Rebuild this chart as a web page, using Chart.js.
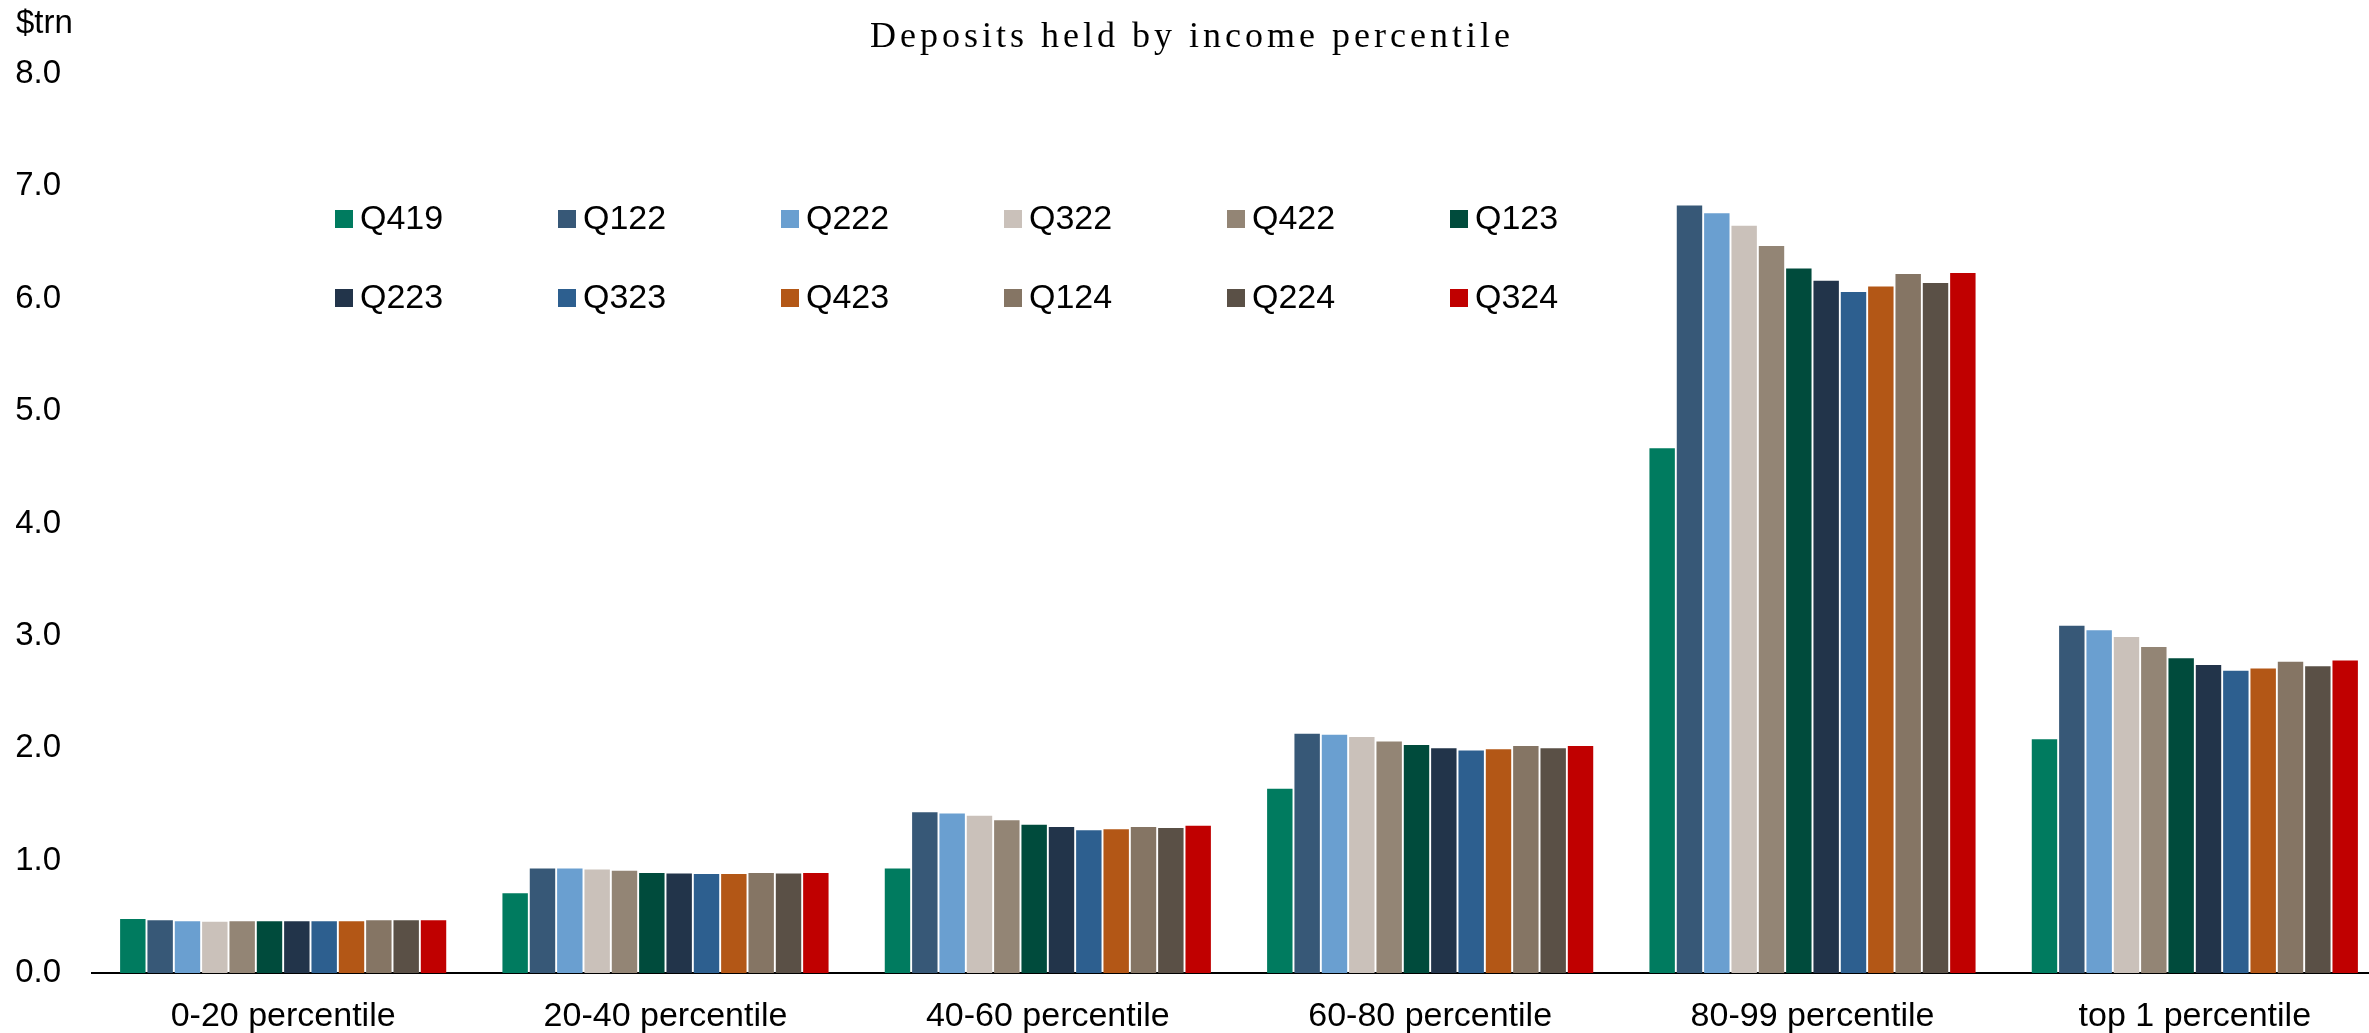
<!DOCTYPE html>
<html>
<head>
<meta charset="utf-8">
<title>Deposits held by income percentile</title>
<script src="https://cdn.jsdelivr.net/npm/chart.js@4.4.1/dist/chart.umd.min.js"></script>
<style>
  html, body { margin: 0; padding: 0; background: #fff; overflow: hidden; }
  /* de grafiek loopt rechts iets door buiten beeld, net als in het origineel */
  #wrap { width: 2369px; height: 1033px; overflow: hidden; }
</style>
</head>
<body>
<div id="wrap"><canvas id="deposits" width="2386" height="1033"></canvas></div>
<script>
// categorieen en waarden ($trn)
const percentiles = ['0-20 percentile', '20-40 percentile', '40-60 percentile', '60-80 percentile', '80-99 percentile', 'top 1 percentile'];

const q419 = [0.48, 0.71, 0.93, 1.64, 4.67, 2.08];
const q122 = [0.47, 0.93, 1.43, 2.13, 6.83, 3.09];
const q222 = [0.46, 0.93, 1.42, 2.12, 6.76, 3.05];
const q322 = [0.455, 0.92, 1.40, 2.10, 6.65, 2.99];
const q422 = [0.46, 0.91, 1.36, 2.06, 6.47, 2.90];
const q123 = [0.46, 0.89, 1.32, 2.03, 6.27, 2.80];
const q223 = [0.46, 0.886, 1.30, 2.00, 6.16, 2.74];
const q323 = [0.46, 0.88, 1.27, 1.98, 6.06, 2.69];
const q423 = [0.46, 0.88, 1.28, 1.99, 6.11, 2.71];
const q124 = [0.47, 0.89, 1.30, 2.02, 6.22, 2.77];
const q224 = [0.47, 0.885, 1.29, 2.00, 6.14, 2.73];
const q324 = [0.47, 0.89, 1.31, 2.02, 6.23, 2.78];

const quarterLabels = ['Q419', 'Q122', 'Q222', 'Q322', 'Q422', 'Q123', 'Q223', 'Q323', 'Q423', 'Q124', 'Q224', 'Q324'];
const quarterValues = [q419, q122, q222, q322, q422, q123, q223, q323, q423, q124, q224, q324];
const quarterColors = ['#007b5f', '#375877', '#6a9fd0', '#cac1ba', '#938575', '#004b3c',
                       '#22344a', '#2d5f8f', '#b35716', '#857564', '#5a5046', '#c00000'];

const sansFont = "'Liberation Sans', Arial, sans-serif";

// titel, eenheid en legenda in twee rijen van zes
const overlayPlugin = {
  id: 'overlay',
  afterDraw(chart) {
    const ctx = chart.ctx;
    ctx.save();
    ctx.fillStyle = '#000';

    ctx.font = "36px 'Liberation Serif', 'Times New Roman', serif";
    ctx.textAlign = 'center';
    ctx.textBaseline = 'middle';
    ctx.letterSpacing = '4px';
    ctx.fillText('Deposits held by income percentile', 1192, 38);
    ctx.letterSpacing = '0px';

    ctx.font = '33px ' + sansFont;
    ctx.textAlign = 'left';
    ctx.fillText('$trn', 16, 24);

    ctx.font = '34px ' + sansFont;
    chart.data.datasets.forEach((ds, i) => {
      const col = i % 6;
      const row = Math.floor(i / 6);
      const x = 335 + col * 223;
      const y = 219 + row * 79;
      ctx.fillStyle = ds.backgroundColor;
      ctx.fillRect(x, y - 9, 18, 18);
      ctx.fillStyle = '#000';
      ctx.fillText(ds.label, x + 25, y + 1);
    });
    ctx.restore();
  }
};

const ctx = document.getElementById('deposits').getContext('2d');

new Chart(ctx, {
  type: 'bar',
  data: {
    labels: percentiles,
    datasets: quarterLabels.map((label, i) => ({
      label: label,
      data: quarterValues[i],
      backgroundColor: quarterColors[i],
      borderWidth: 0,
      categoryPercentage: 0.858,
      barPercentage: 0.93
    }))
  },
  options: {
    responsive: false,
    animation: false,
    layout: { padding: { top: 74, left: 15, right: 0, bottom: 0 } },
    plugins: {
      legend: { display: false },
      title: { display: false },
      tooltip: { enabled: false }
    },
    scales: {
      x: {
        grid: { display: false, drawTicks: false },
        border: { display: true, color: '#000', width: 2 },
        ticks: {
          color: '#000',
          padding: 23,
          maxRotation: 0,
          font: { family: sansFont, size: 34 }
        },
        afterFit: (scale) => {
          scale.paddingLeft = 0;
          scale.paddingRight = 0;
          scale.height = 60;
        }
      },
      y: {
        min: 0,
        max: 8,
        grid: { display: false, drawTicks: false },
        border: { display: false },
        ticks: {
          stepSize: 1,
          color: '#000',
          padding: 31,
          font: { family: sansFont, size: 33 },
          callback: (v) => Number(v).toFixed(1)
        },
        afterFit: (scale) => {
          scale.width = 77;
        }
      }
    }
  },
  plugins: [overlayPlugin]
});
</script>
</body>
</html>
